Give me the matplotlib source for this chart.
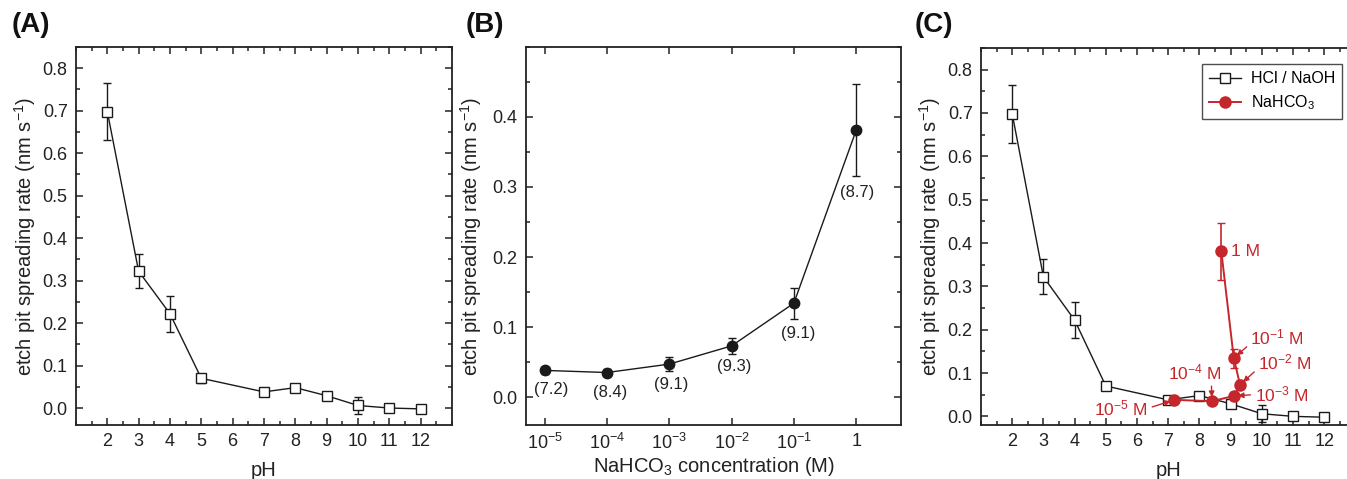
import matplotlib
matplotlib.use("Agg")
import matplotlib.pyplot as plt
from matplotlib.lines import Line2D
from matplotlib.ticker import MultipleLocator, FixedLocator, NullLocator

plt.rcParams['font.family'] = ['Liberation Sans', 'DejaVu Sans']
plt.rcParams['mathtext.fontset'] = 'custom'
plt.rcParams['mathtext.rm'] = 'Liberation Sans'
plt.rcParams['mathtext.it'] = 'Liberation Sans:italic'
plt.rcParams['mathtext.default'] = 'regular'

# data
ph = [2, 3, 4, 5, 7, 8, 9, 10, 11, 12]
rate_ph = [0.698, 0.322, 0.222, 0.070, 0.038, 0.048, 0.029, 0.006, 0.000, -0.002]
err_ph = [0.067, 0.040, 0.042, 0.010, 0.005, 0.006, 0.004, 0.020, 0.004, 0.003]

conc = [1e-5, 1e-4, 1e-3, 1e-2, 1e-1, 1]
conc_labels = ['10$^{-5}$', '10$^{-4}$', '10$^{-3}$', '10$^{-2}$', '10$^{-1}$', '1']
rate_conc = [0.038, 0.035, 0.047, 0.073, 0.134, 0.381]
err_conc = [0.005, 0.005, 0.010, 0.011, 0.022, 0.066]
ph_conc = [7.2, 8.4, 9.1, 9.3, 9.1, 8.7]
conc_names = ['10$^{-5}$ M', '10$^{-4}$ M', '10$^{-3}$ M', '10$^{-2}$ M', '10$^{-1}$ M', '1 M']

red = '#c4262b'
dark = '#222222'
ylabel = 'etch pit spreading rate (nm s$^{-1}$)'

fig = plt.figure(figsize=(13.47, 4.79), dpi=100)
axA = fig.add_axes([0.0564, 0.1127, 0.2791, 0.7892])
axB = fig.add_axes([0.3905, 0.1127, 0.2784, 0.7892])
axC = fig.add_axes([0.7283, 0.1127, 0.2780, 0.7871])


def style(ax):
    for s in ax.spines.values():
        s.set_linewidth(1.3)
        s.set_color(dark)
    ax.tick_params(which='both', direction='in', top=True, right=True,
                   labelsize=13, colors=dark, width=1.1, pad=6)
    ax.tick_params(which='major', length=5)
    ax.tick_params(which='minor', length=3)


def ph_axes(ax, ylim):
    ax.set_xlim(1, 13)
    ax.set_ylim(*ylim)
    ax.xaxis.set_major_locator(FixedLocator(range(2, 13)))
    ax.xaxis.set_minor_locator(MultipleLocator(0.5))
    ax.set_yticks([0.0, 0.1, 0.2, 0.3, 0.4, 0.5, 0.6, 0.7, 0.8])
    ax.yaxis.set_minor_locator(MultipleLocator(0.05))
    ax.set_xlabel('pH', fontsize=14.5, color=dark, labelpad=8)
    ax.set_ylabel(ylabel, fontsize=14.5, color=dark, labelpad=3)
    style(ax)


# (A)
axA.errorbar(ph, rate_ph, yerr=err_ph, color='#1a1a1a', lw=1.0, marker='s', ms=7,
             mfc='white', mec='#1a1a1a', mew=1.0, capsize=3, elinewidth=1.0)
ph_axes(axA, (-0.04, 0.85))

# (B)
axB.errorbar(conc, rate_conc, yerr=err_conc, color='#1a1a1a', lw=1.0, marker='o', ms=7.5,
             mfc='#1a1a1a', mec='#1a1a1a', capsize=3, elinewidth=1.0)
axB.set_xscale('log')
axB.set_xlim(10 ** -5.3, 10 ** 0.72)
axB.set_ylim(-0.04, 0.5)
axB.xaxis.set_major_locator(FixedLocator(conc))
axB.xaxis.set_minor_locator(NullLocator())
axB.set_xticklabels(conc_labels)
axB.set_yticks([0.0, 0.1, 0.2, 0.3, 0.4])
axB.yaxis.set_minor_locator(MultipleLocator(0.05))
axB.set_xlabel('NaHCO$_3$ concentration (M)', fontsize=14.5, color=dark, labelpad=1)
axB.set_ylabel(ylabel, fontsize=14.5, color=dark, labelpad=6)
style(axB)
b_offsets = [(5, -14), (2, -14.5), (1.5, -15), (2, -15), (3, -21.5), (1, -45)]
for c, r, p, off in zip(conc, rate_conc, ph_conc, b_offsets):
    axB.annotate(f'({p})', (c, r), xytext=off, textcoords='offset points',
                 ha='center', va='center', fontsize=12, color=dark)

# (C)
axC.errorbar(ph, rate_ph, yerr=err_ph, color='#1a1a1a', lw=1.0, marker='s', ms=7,
             mfc='white', mec='#1a1a1a', mew=1.0, capsize=3, elinewidth=1.0, zorder=2)
axC.errorbar(ph_conc, rate_conc, yerr=err_conc, color=red, lw=1.4, marker='o', ms=8,
             mfc=red, mec=red, capsize=3, elinewidth=1.2, zorder=3)
ph_axes(axC, (-0.02, 0.85))

handles = [Line2D([], [], color='#1a1a1a', lw=1.0, marker='s', ms=7, mfc='white', mew=1.0),
           Line2D([], [], color=red, lw=1.4, marker='o', ms=8, mfc=red, mec=red)]
leg = fig.legend(handles, ['HCl / NaOH', 'NaHCO$_3$'], loc='upper right',
                 bbox_to_anchor=(1342 / 1347, 1 - 64 / 479), fontsize=11.5,
                 frameon=True, fancybox=False, edgecolor=dark, handlelength=2.0,
                 handletextpad=0.6, borderpad=0.45, labelspacing=0.45,
                 borderaxespad=0)
leg.get_frame().set_linewidth(1.0)

# concentration labels with arrows (offsets in points)
c_text = [(-19, -6), (-12, 21), (15, 1), (13, 16), (12, 15), (7, 0)]
c_align = ['right', 'center', 'left', 'left', 'left', 'left']
c_rel = [(1, 0.5), (0.8, 0), (0, 0.5), (0, 0.2), (0, 0.2), None]
for p, r, name, off, ha, rel in zip(ph_conc, rate_conc, conc_names, c_text, c_align, c_rel):
    props = None
    if rel is not None:
        props = dict(arrowstyle='-|>', color=red, lw=1.0, mutation_scale=8,
                     shrinkA=1, shrinkB=3, relpos=rel)
    axC.annotate(name, (p, r), xytext=off, textcoords='offset points', ha=ha,
                 va='center', fontsize=12.5, color=red, arrowprops=props, zorder=4)

for x, t in [(12, '(A)'), (466, '(B)'), (915, '(C)')]:
    fig.text(x / 1347, 1 - 12 / 479, t, fontsize=20, fontweight='bold',
             va='top', ha='left', color='#111111')

fig.savefig('out.png', dpi=100)
